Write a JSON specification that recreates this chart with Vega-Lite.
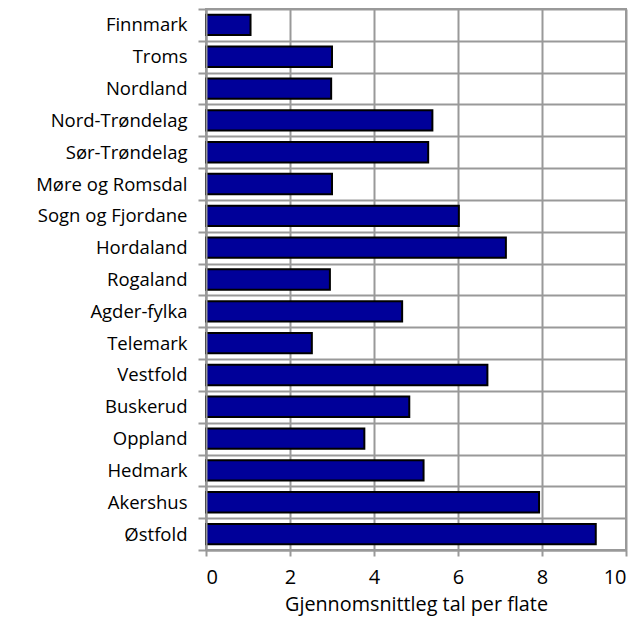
{
  "$schema": "https://vega.github.io/schema/vega-lite/v6.json",
  "width": 420,
  "height": 541,
  "autosize": {"type": "none"},
  "padding": {"left": 206, "top": 9, "right": 18, "bottom": 69},
  "background": "white",
  "data": {
    "values": [
      {"fylke": "Finnmark", "verdi": 1.06},
      {"fylke": "Troms", "verdi": 3.0},
      {"fylke": "Nordland", "verdi": 2.98},
      {"fylke": "Nord-Trøndelag", "verdi": 5.39},
      {"fylke": "Sør-Trøndelag", "verdi": 5.29},
      {"fylke": "Møre og Romsdal", "verdi": 3.0},
      {"fylke": "Sogn og Fjordane", "verdi": 6.02},
      {"fylke": "Hordaland", "verdi": 7.14},
      {"fylke": "Rogaland", "verdi": 2.95},
      {"fylke": "Agder-fylka", "verdi": 4.67},
      {"fylke": "Telemark", "verdi": 2.52},
      {"fylke": "Vestfold", "verdi": 6.7},
      {"fylke": "Buskerud", "verdi": 4.84},
      {"fylke": "Oppland", "verdi": 3.77},
      {"fylke": "Hedmark", "verdi": 5.18},
      {"fylke": "Akershus", "verdi": 7.93},
      {"fylke": "Østfold", "verdi": 9.28}
    ]
  },
  "config": {
    "view": {"stroke": "#999999", "strokeWidth": 2},
    "font": "Open Sans",
    "axis": {
      "labelFont": "Open Sans",
      "titleFont": "Open Sans",
      "labelColor": "#000000",
      "titleColor": "#000000",
      "gridColor": "#999999",
      "gridWidth": 2,
      "gridOpacity": 1,
      "domainColor": "#999999",
      "domainWidth": 2,
      "tickColor": "#999999",
      "tickWidth": 2
    }
  },
  "mark": {"type": "bar", "fill": "#000099", "stroke": "#000000", "strokeWidth": 2, "height": {"band": 0.64}},
  "encoding": {
    "y": {
      "field": "fylke",
      "type": "nominal",
      "sort": null,
      "scale": {"paddingInner": 0, "paddingOuter": 0},
      "axis": {
        "title": null,
        "labelFontSize": 18.5,
        "labelPadding": 11,
        "tickSize": 8,
        "tickBand": "extent",
        "grid": true,
        "gridColor": "#999999",
        "gridWidth": 2,
        "zindex": 1
      }
    },
    "x": {
      "field": "verdi",
      "type": "quantitative",
      "scale": {"domain": [0, 10], "nice": false},
      "axis": {
        "title": "Gjennomsnittleg tal per flate",
        "titleFontSize": 19.8,
        "titleFontWeight": "normal",
        "titlePadding": 7,
        "labelFontSize": 20,
        "labelPadding": 11,
        "tickSize": 6,
        "values": [0, 2, 4, 6, 8, 10],
        "grid": true
      }
    }
  }
}
